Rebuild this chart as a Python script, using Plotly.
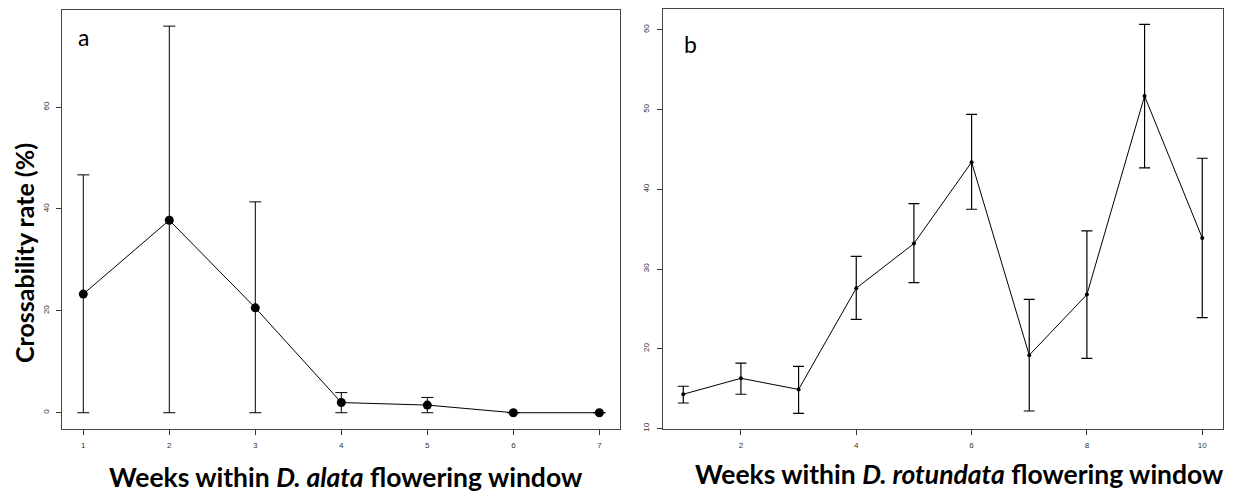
import plotly.graph_objects as go

# The page body has an 8px default margin; the figure is sized to fill the rest
OFF = 8
W, H = 1245 - OFF, 497 - OFF

# Panel a: D. alata
weeks_a = [1, 2, 3, 4, 5, 6, 7]
mean_a = [23.3, 37.8, 20.6, 2.0, 1.5, 0.0, 0.0]
low_a = [0.0, 0.0, 0.0, 0.0, 0.0, 0.0, 0.0]
up_a = [46.7, 75.9, 41.4, 3.95, 3.0, 0.0, 0.0]
xticks_a = [1, 2, 3, 4, 5, 6, 7]
yticks_a = [0, 20, 40, 60]

# Panel b: D. rotundata
weeks_b = [1, 2, 3, 4, 5, 6, 7, 8, 9, 10]
mean_b = [14.3, 16.3, 14.9, 27.6, 33.2, 43.4, 19.2, 26.8, 51.7, 33.9]
low_b = [13.2, 14.3, 11.9, 23.7, 28.3, 37.5, 12.2, 18.8, 42.7, 23.9]
up_b = [15.3, 18.2, 17.8, 31.6, 38.2, 49.4, 26.2, 34.8, 60.7, 43.9]
xticks_b = [2, 4, 6, 8, 10]
yticks_b = [10, 20, 30, 40, 50, 60]


def px_x(p):
    return (p - OFF) / W


def px_y(p):
    return (497 - p) / H


fig = go.Figure()

fig.add_trace(go.Scatter(
    x=weeks_a, y=mean_a, mode="lines+markers",
    line=dict(color="black", width=1),
    marker=dict(color="black", size=9),
    error_y=dict(type="data", symmetric=False,
                 array=[u - m for u, m in zip(up_a, mean_a)],
                 arrayminus=[m - l for m, l in zip(mean_a, low_a)],
                 color="black", thickness=1, width=6),
    xaxis="x", yaxis="y", showlegend=False))

fig.add_trace(go.Scatter(
    x=weeks_b, y=mean_b, mode="lines+markers",
    line=dict(color="black", width=1),
    marker=dict(color="black", size=4),
    error_y=dict(type="data", symmetric=False,
                 array=[u - m for u, m in zip(up_b, mean_b)],
                 arrayminus=[m - l for m, l in zip(mean_b, low_b)],
                 color="black", thickness=1.2, width=5.5),
    xaxis="x2", yaxis="y2", showlegend=False))

tickfont = dict(family="Liberation Sans, Arial, sans-serif", size=8, color="#333")
axis_common = dict(showgrid=False, zeroline=False, showline=True, linecolor="#444",
                   linewidth=1, mirror=True, ticks="outside", ticklen=5,
                   tickcolor="#333", tickwidth=1, tickfont=tickfont)

fig.update_layout(
    width=W, height=H,
    margin=dict(l=0, r=0, t=0, b=0),
    paper_bgcolor="white", plot_bgcolor="white",
    xaxis=dict(domain=[px_x(62.3), px_x(620)], range=[0.756, 7.24],
               tickvals=xticks_a, anchor="y", ticklabelstandoff=3, **axis_common),
    yaxis=dict(domain=[px_y(431.5), px_y(9)], range=[-3.2, 79.07],
               tickvals=yticks_a, anchor="x", tickangle=-90, ticklabelstandoff=4,
               **axis_common),
    xaxis2=dict(domain=[px_x(662.5), px_x(1222.7)], range=[0.64, 10.355],
                tickvals=xticks_b, anchor="y2", ticklabelstandoff=3, **axis_common),
    yaxis2=dict(domain=[px_y(431.7), px_y(8.3)], range=[9.91, 62.58],
                tickvals=yticks_b, anchor="x2", tickangle=-90, ticklabelstandoff=4,
                **axis_common),
)

title_font = dict(family="Lato, Open Sans, sans-serif", size=26.5, color="black")
fig.add_annotation(text="<b>Crossability rate (%)</b>", x=px_x(24), y=px_y(254),
                   xref="paper", yref="paper", showarrow=False, textangle=-90,
                   font=dict(family="Lato, Open Sans, sans-serif", size=25, color="black"),
                   xanchor="center", yanchor="middle")
fig.add_annotation(text="<b>Weeks within <i>D. alata</i> flowering window</b>",
                   x=px_x(346), y=px_y(480), xref="paper", yref="paper",
                   showarrow=False, font=title_font, xanchor="center", yanchor="middle")
fig.add_annotation(text="<b>Weeks within <i>D. rotundata</i> flowering window</b>",
                   x=px_x(959), y=px_y(477), xref="paper", yref="paper",
                   showarrow=False, font=title_font, xanchor="center", yanchor="middle")

label_font = dict(family="Lato, Open Sans, sans-serif", size=23, color="black")
fig.add_annotation(text="a", x=px_x(83), y=px_y(36), xref="paper", yref="paper",
                   showarrow=False, font=label_font, xanchor="center", yanchor="middle")
fig.add_annotation(text="b", x=px_x(690), y=px_y(43), xref="paper", yref="paper",
                   showarrow=False, font=label_font, xanchor="center", yanchor="middle")

fig.write_html("out.html")
